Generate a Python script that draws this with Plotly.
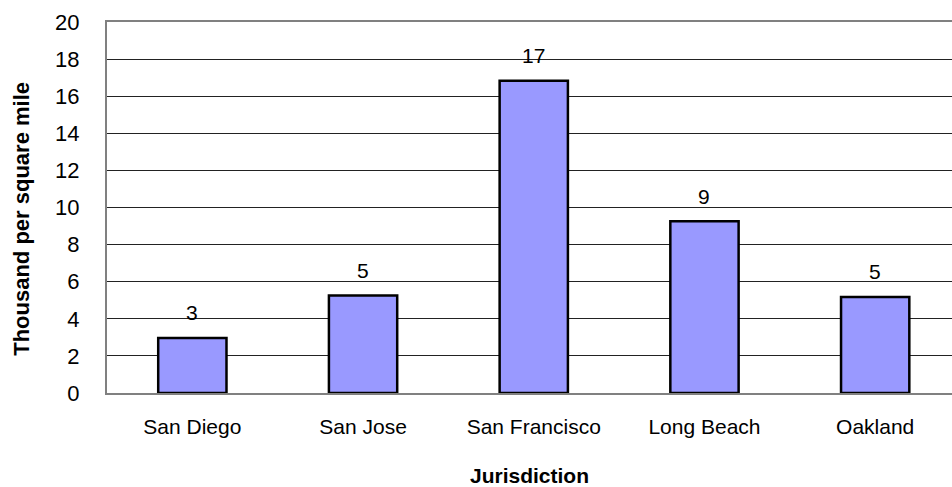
import plotly.graph_objects as go

# Population density by jurisdiction (thousand residents per square mile)
jurisdictions = ["San Diego", "San Jose", "San Francisco", "Long Beach", "Oakland"]
density = [2.97, 5.25, 16.83, 9.26, 5.18]
y_ticks = [0, 2, 4, 6, 8, 10, 12, 14, 16, 18, 20]

FONT = "Liberation Sans, Arial, sans-serif"

fig = go.Figure()
fig.add_trace(go.Bar(
    x=jurisdictions,
    y=density,
    width=0.4,
    marker=dict(color="#9999FF", line=dict(color="#000000", width=2.5)),
    hoverinfo="x+y",
))

# value labels above each bar, rounded to whole thousands
for name, v in zip(jurisdictions, density):
    fig.add_annotation(
        x=name, y=v, text=f"{v:.0f}", showarrow=False,
        yanchor="middle", yshift=25,
        font=dict(family=FONT, size=21, color="#000000"),
    )

# vertical axis title, set slightly below the plot-area centre
fig.add_annotation(
    text="<b>Thousand per square mile</b>", textangle=-90,
    xref="paper", yref="paper", x=-0.102, y=0.469,
    xanchor="center", yanchor="middle", showarrow=False,
    font=dict(family=FONT, size=22, color="#000000"),
)

fig.update_layout(
    width=952, height=487,
    margin=dict(l=107, r=0, t=22, b=94),
    paper_bgcolor="white", plot_bgcolor="white",
    showlegend=False,
    font=dict(family=FONT, size=21, color="#000000"),
    bargap=0.6,
)
fig.update_xaxes(
    range=[-0.5, 4.45],
    showline=True, linecolor="#808080", linewidth=2, mirror=True,
    ticks="", ticklabelstandoff=14,
    tickfont=dict(family=FONT, size=21, color="#000000"),
    title=dict(text="<b>Jurisdiction</b>", standoff=34,
               font=dict(family=FONT, size=21, color="#000000")),
    showgrid=False,
)
fig.update_yaxes(
    range=[0, 20], tickvals=y_ticks,
    showline=True, linecolor="#808080", linewidth=2, mirror=False,
    showgrid=True, gridcolor="#222222", gridwidth=1,
    zeroline=False,
    ticks="", ticklabelstandoff=21,
    tickfont=dict(family=FONT, size=22, color="#000000"),
)

fig.write_html("out.html")
